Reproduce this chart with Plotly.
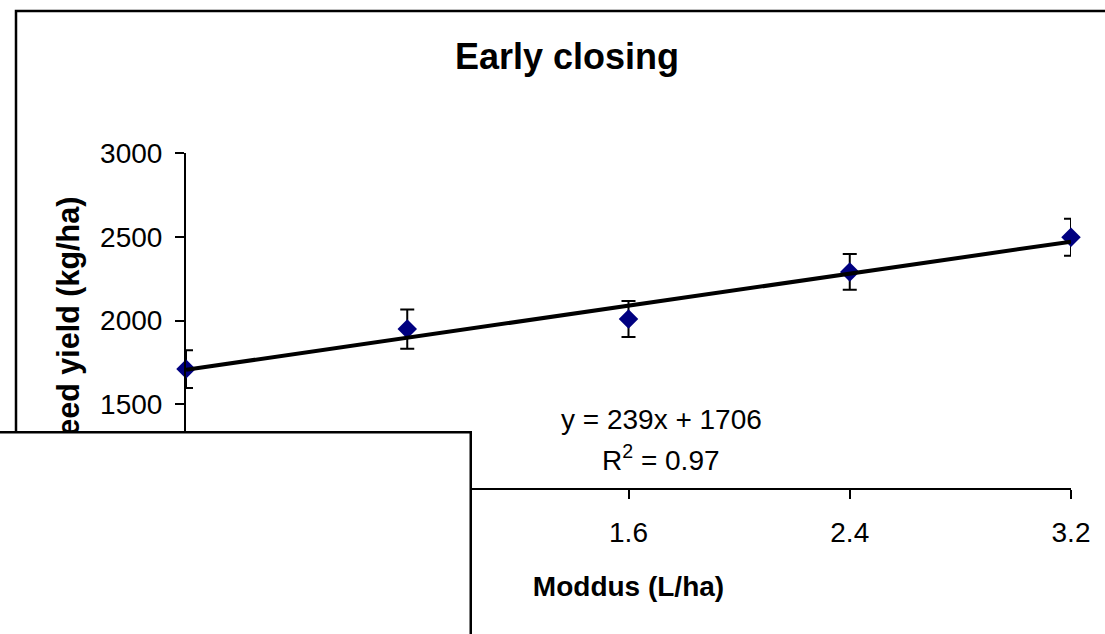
import plotly.graph_objects as go

# ---- data ----
moddus_rates = [0, 0.8, 1.6, 2.4, 3.2]            # L/ha
seed_yield = [1710, 1949, 2009, 2290, 2497]       # kg/ha
yield_error = [113, 117, 107, 107, 110]           # kg/ha
x_tick_labels = ["0", "0.8", "1.6", "2.4", "3.2"]
y_tick_values = [1000, 1500, 2000, 2500, 3000]
trend_slope = 239
trend_intercept = 1706
r_squared = 0.97

W, H = 1105, 634
L, R, T, B = 186, 1071, 153, 488   # plot area in px


def px(x):
    return (x - L) / (R - L)


def py(y):
    return (B - y) / (B - T)


FONT = "Arial, Liberation Sans, sans-serif"

fig = go.Figure()

fig.add_trace(go.Scatter(
    x=moddus_rates, y=seed_yield,
    mode="markers",
    marker=dict(symbol="diamond", size=15, color="#000080"),
    error_y=dict(type="data", array=yield_error, visible=True,
                 color="black", thickness=2, width=7),
    showlegend=False, cliponaxis=False,
))

trend_x = [moddus_rates[0], moddus_rates[-1]]
trend_y = [trend_slope * v + trend_intercept for v in trend_x]
fig.add_trace(go.Scatter(
    x=trend_x, y=trend_y, mode="lines",
    line=dict(color="black", width=4),
    showlegend=False, cliponaxis=False,
))

fig.update_layout(
    width=W, height=H,
    margin=dict(l=L, r=W - R, t=T, b=H - B, pad=0),
    paper_bgcolor="white", plot_bgcolor="white",
    font=dict(family=FONT, size=28, color="black"),
    title=dict(text="<b>Early closing</b>", x=px(567), xref="paper",
               xanchor="center", y=1 - 56 / H, yanchor="middle",
               font=dict(family=FONT, size=36, color="black")),
    xaxis=dict(range=[0, 3.2], tickmode="array", tickvals=moddus_rates,
               ticktext=x_tick_labels, showline=True, linecolor="black",
               linewidth=2, ticks="outside", ticklen=9, tickwidth=2,
               tickcolor="black", showgrid=False, zeroline=False,
               ticklabelstandoff=9,
               tickfont=dict(family=FONT, size=28),
               title=dict(text="<b>Moddus (L/ha)</b>",
                          font=dict(family=FONT, size=28), standoff=30)),
    yaxis=dict(range=[1000, 3000], tickmode="array", tickvals=y_tick_values,
               showline=True, linecolor="black", linewidth=2,
               ticks="outside", ticklen=9, tickwidth=2, tickcolor="black",
               showgrid=False, zeroline=False, ticklabelstandoff=7,
               tickfont=dict(family=FONT, size=28)),
)

# outer chart border
fig.add_shape(type="rect", xref="paper", yref="paper",
              x0=px(16), y0=py(11), x1=px(1130), y1=py(700),
              line=dict(color="black", width=2.5), fillcolor="rgba(0,0,0,0)",
              layer="below")

# y axis title (annotation so the white box can cover it)
fig.add_annotation(text="<b>Seed yield (kg/ha)</b>", xref="paper", yref="paper",
                   x=px(68), y=py(327), xanchor="center", yanchor="middle",
                   textangle=-90, showarrow=False,
                   font=dict(family=FONT, size=30.5, color="black"))

# trendline equation
fig.add_annotation(text=f"y = {trend_slope}x + {trend_intercept}",
                   xref="paper", yref="paper", x=px(661), y=py(419),
                   xanchor="center", yanchor="middle", showarrow=False,
                   font=dict(family=FONT, size=28, color="black"))
fig.add_annotation(text=f"R<sup>2</sup> = {r_squared}",
                   xref="paper", yref="paper", x=px(661), y=py(458),
                   xanchor="center", yanchor="middle", showarrow=False,
                   font=dict(family=FONT, size=28, color="black"))

# white overlapping box (drawn last, on top)
fig.add_annotation(text=" ", xref="paper", yref="paper",
                   x=px(472), y=py(431), xanchor="right", yanchor="top",
                   width=700, height=400, bgcolor="white",
                   bordercolor="black", borderwidth=2.5, borderpad=0,
                   showarrow=False)

fig.write_html("out.html",
               config={"displayModeBar": False},
               post_script="document.body.style.margin='0';"
                           "document.body.style.overflow='hidden';")
